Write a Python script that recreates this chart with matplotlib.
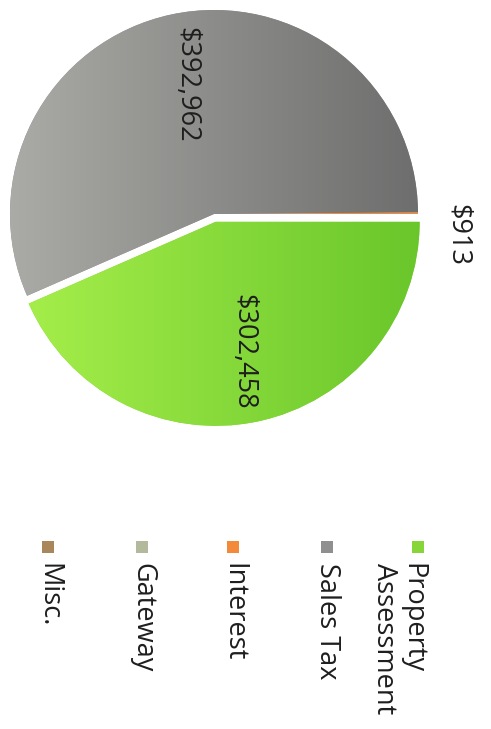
import numpy as np
import matplotlib.pyplot as plt
from matplotlib.colors import LinearSegmentedColormap

categories = ["Property\nAssessment", "Sales Tax", "Interest", "Gateway", "Misc."]
values = [302458, 392962, 913, 0, 0]
colors = ["#86d63a", "#8f8f8f", "#f28a3a", "#b3b99c", "#a8885a"]
# light -> dark shading across each big slice
shades = {0: ("#a8f04c", "#68c52a"), 1: ("#ababa7", "#6c6c6c")}

plt.rcParams['font.family'] = ['Open Sans', 'DejaVu Sans']

fig = plt.figure(figsize=(4.91, 7.29), dpi=100)
ax = fig.add_axes([0, 0, 1, 1])

labels = [f"${v:,}" if v > 0 else "" for v in values]
wedges, texts = ax.pie(values, colors=colors, labels=labels,
                       startangle=0, counterclock=True,
                       center=(214, 214), radius=204,
                       explode=[8, 0, 0, 0, 0],
                       labeldistance=0.65,
                       wedgeprops=dict(linewidth=0))

# horizontal gradient, clipped to the wedge
grad = np.linspace(0, 1, 256).reshape(1, -1)
for i, (c0, c1) in shades.items():
    cmap = LinearSegmentedColormap.from_list(f"s{i}", [c0, c1])
    im = ax.imshow(grad, cmap=cmap, extent=(5, 430, 0, 440),
                   aspect='auto', zorder=wedges[i].get_zorder() + 0.1)
    im.set_clip_path(wedges[i])

ax.set_xlim(0, 491)
ax.set_ylim(729, 0)
ax.axis('off')

for t in texts:
    t.set_rotation(-90)
    t.set_ha('center')
    t.set_va('center')
    t.set_fontsize(19.5)
    t.set_color('#1e1e1e')
    t.set_zorder(5)
# the tiny Interest slice gets its label outside the pie
texts[2].set_position((458, 235))

# legend, drawn sideways like the rest of the chart
leg_x = [398, 327, 233, 142, 48]
for cat, col, x in zip(categories, colors, leg_x):
    nlines = cat.count("\n") + 1
    mx = x + (nlines - 1) * 20
    ax.scatter([mx], [547], marker='s', s=70, color=col, linewidths=0)
    ax.text(x, 563, cat, rotation=-90, ha='center', va='top',
            multialignment='left', fontsize=19.5, color='#1e1e1e',
            linespacing=1.0)

fig.savefig("out.png", dpi=100)
